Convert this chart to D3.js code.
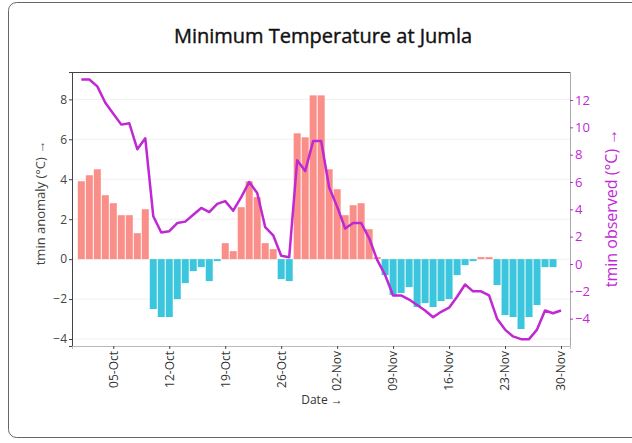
<!DOCTYPE html>
<html>
<head>
<meta charset="utf-8">
<script src="https://cdn.jsdelivr.net/npm/d3@7"></script>
<style>
  body { margin: 0; background: #fff; }
  text { font-family: "Open Sans", "Noto Sans", sans-serif; }
</style>
</head>
<body>
<div id="chart"></div>
<script>
// daily values, 01-Oct to 30-Nov (2020)
var anomaly = [3.9, 4.2, 4.5, 3.2, 2.8, 2.2, 2.2, 1.3, 2.5, -2.5,
  -2.9, -2.9, -2.0, -1.2, -0.6, -0.4, -1.1, -0.1, 0.8, 0.4,
  2.6, 3.9, 3.1, 0.8, 0.5, -1.0, -1.1, 6.3, 6.1, 8.2,
  8.2, 4.5, 3.5, 2.2, 2.7, 2.8, 1.5, 0.1, -0.8, -1.8,
  -1.7, -1.4, -2.4, -2.2, -2.4, -2.1, -2.0, -0.8, -0.3, -0.1,
  0.1, 0.1, -1.3, -2.8, -2.9, -3.5, -2.9, -2.3, -0.4, -0.4,
  null];
var tmin = [13.5, 13.5, 13.0, 11.8, 11.0, 10.2, 10.3, 8.4, 9.2, 3.5,
  2.3, 2.4, 3.0, 3.1, 3.6, 4.1, 3.8, 4.4, 4.6, 3.9,
  4.9, 6.0, 5.2, 2.7, 2.1, 0.6, 0.5, 7.6, 6.8, 9.0,
  9.0, 5.6, 4.2, 2.6, 3.0, 3.0, 1.9, 0.3, -0.8, -2.3,
  -2.3, -2.6, -3.0, -3.4, -3.9, -3.5, -3.2, -2.4, -1.5, -2.0,
  -2.0, -2.3, -4.0, -4.8, -5.3, -5.5, -5.5, -4.8, -3.4, -3.6,
  -3.4];
var dates = d3.utcDay.range(new Date(Date.UTC(2020, 9, 1)), new Date(Date.UTC(2020, 11, 1)));
var leftTicks = [-4, -2, 0, 2, 4, 6, 8];
var rightTicks = [-4, -2, 0, 2, 4, 6, 8, 10, 12];

var data = dates.map(function (d, i) {
  return { date: d, anomaly: anomaly[i], tmin: tmin[i] };
});

var W = 632, H = 443;
var margin = { top: 72, right: 62, bottom: 97, left: 72 };
var width = W - margin.left - margin.right,
  height = H - margin.top - margin.bottom;

var lineColor = "#bf28d3";
var redFill = "#fa8e89";
var blueFill = "#3bc6de";

var svg = d3.select("#chart")
  .append("svg")
  .attr("width", W)
  .attr("height", H);

// outer card
svg.append("rect")
  .attr("x", 8.5).attr("y", 2.5)
  .attr("width", 640).attr("height", 435)
  .attr("rx", 8).attr("ry", 8)
  .attr("fill", "none")
  .attr("stroke", "#666");

svg.append("text")
  .attr("x", 323).attr("y", 43)
  .attr("text-anchor", "middle")
  .style("font-size", "20px")
  .attr("fill", "#111")
  .attr("stroke", "#111")
  .attr("stroke-width", 0.4)
  .text("Minimum Temperature at Jumla");

var g = svg.append("g")
  .attr("transform", "translate(" + margin.left + "," + margin.top + ")");

var x = d3.scaleUtc()
  .domain([new Date(Date.UTC(2020, 8, 29, 20)), new Date(Date.UTC(2020, 11, 1, 3))])
  .range([0, width]);
var yL = d3.scaleLinear().domain([-4.35, 9.37]).range([height, 0]);
var yR = d3.scaleLinear().domain([-6, 14.05]).range([height, 0]);

// grid
g.append("g")
  .selectAll("line")
  .data(leftTicks)
  .enter()
  .append("line")
  .attr("x1", 0).attr("x2", width)
  .attr("y1", function (d) { return yL(d); })
  .attr("y2", function (d) { return yL(d); })
  .attr("stroke", "#f0f0f0");

// bars
g.append("g")
  .selectAll("rect")
  .data(data.filter(function (d) { return d.anomaly !== null; }))
  .enter()
  .append("rect")
  .attr("x", function (d) { return x(d.date) - 3.5; })
  .attr("width", 7)
  .attr("y", function (d) { return yL(Math.max(0, d.anomaly)); })
  .attr("height", function (d) { return Math.abs(yL(d.anomaly) - yL(0)); })
  .attr("fill", function (d) { return d.anomaly >= 0 ? redFill : blueFill; });

// line
var line = d3.line()
  .x(function (d) { return x(d.date); })
  .y(function (d) { return yR(d.tmin); });
g.append("path")
  .datum(data)
  .attr("d", line)
  .attr("fill", "none")
  .attr("stroke", lineColor)
  .attr("stroke-width", 2.5)
  .attr("stroke-linejoin", "round");

// frame
g.append("line").attr("x1", 0).attr("x2", width).attr("y1", 0.5).attr("y2", 0.5).attr("stroke", "#444");
g.append("line").attr("x1", width + 0.5).attr("x2", width + 0.5).attr("y1", 0).attr("y2", height).attr("stroke", "#aaa");

// axes
var axL = g.append("g")
  .call(d3.axisLeft(yL).tickValues(leftTicks).tickSize(3).tickPadding(2));
axL.select(".domain").attr("stroke", "#444");
axL.selectAll(".tick line").attr("stroke", "#444");
axL.selectAll("text").attr("fill", "#444").style("font-size", "12px");

var axR = g.append("g")
  .attr("transform", "translate(" + width + ",0)")
  .call(d3.axisRight(yR).tickValues(rightTicks).tickSize(3).tickPadding(2));
axR.select(".domain").remove();
axR.selectAll(".tick line").attr("stroke", lineColor);
axR.selectAll("text").attr("fill", lineColor).style("font-size", "13px");

var axB = g.append("g")
  .attr("transform", "translate(0," + height + ")")
  .call(d3.axisBottom(x).ticks(d3.utcMonday.every(1)).tickFormat(d3.utcFormat("%d-%b")).tickSize(3).tickPadding(2));
axB.select(".domain").attr("stroke", "#bbb");
axB.selectAll(".tick line").attr("stroke", "#444");
axB.selectAll("text")
  .attr("fill", "#333")
  .style("font-size", "12px")
  .attr("transform", "rotate(-90)")
  .attr("text-anchor", "end")
  .attr("x", -5)
  .attr("y", 0)
  .attr("dy", "0.32em");

// axis titles
svg.append("text")
  .attr("transform", "translate(45,203) rotate(-90)")
  .attr("text-anchor", "middle")
  .attr("fill", "#444")
  .style("font-size", "13px")
  .text("tmin anomaly (°C) →");

svg.append("text")
  .attr("transform", "translate(617,208) rotate(-90)")
  .attr("text-anchor", "middle")
  .attr("fill", lineColor)
  .style("font-size", "16px")
  .text("tmin observed (°C) →");

svg.append("text")
  .attr("x", 322).attr("y", 404)
  .attr("text-anchor", "middle")
  .attr("fill", "#333")
  .style("font-size", "12px")
  .text("Date →");
</script>
</body>
</html>
